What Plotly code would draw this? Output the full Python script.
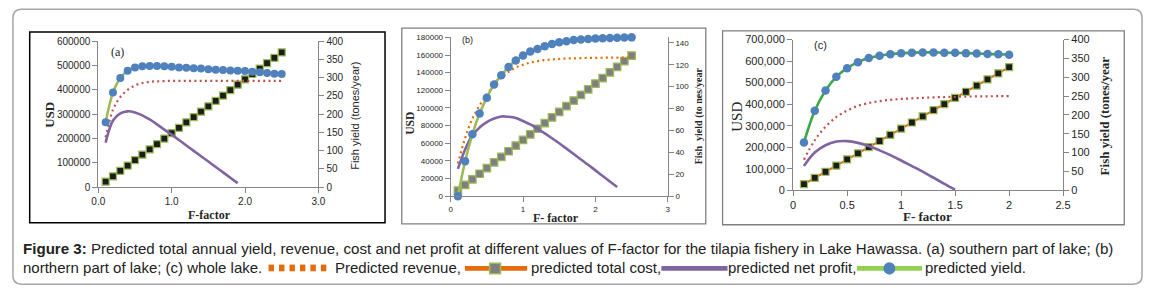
import plotly.graph_objects as go

W, H = 1154, 296

# ---------------- data ----------------
# (a) southern part of lake
f_a = [0.1, 0.2, 0.3, 0.4, 0.5, 0.6, 0.7, 0.8, 0.9, 1.0, 1.1, 1.2, 1.3, 1.4, 1.5,
       1.6, 1.7, 1.8, 1.9, 2.0, 2.1, 2.2, 2.3, 2.4, 2.5]
yield_a = [178, 259, 299, 319, 328, 331, 332, 332, 331, 330, 328, 327, 326, 325, 323,
           322, 321, 320, 319, 318, 316, 315, 313, 311, 310]
revenue_a = [205000, 318000, 370000, 400000, 418000, 428000, 433000, 435000, 436000, 437000,
             437000, 437000, 437000, 437000, 437000, 437000, 437000, 437000, 437000, 437000,
             437000, 437000, 437000, 437000, 437000]
cost_a = [22000, 44000, 66500, 88500, 111000, 133000, 155000, 177000, 199500, 221500,
          243500, 266000, 288000, 310000, 332000, 354500, 376500, 398500, 421000, 443000,
          465000, 487500, 509500, 531500, 554000]
f_a_profit = [0.1, 0.2, 0.3, 0.4, 0.5, 0.6, 0.7, 0.8, 0.9, 1.0, 1.1, 1.2, 1.3, 1.4, 1.5,
              1.6, 1.7, 1.8, 1.9]
profit_a = [183000, 274000, 303500, 311500, 307000, 295000, 278000, 258000, 236500, 215500,
            193500, 171000, 149000, 127000, 105000, 82500, 60500, 38500, 16000]

# (b) northern part of lake
f_b = [0.1, 0.2, 0.3, 0.4, 0.5, 0.6, 0.7, 0.8, 0.9, 1.0, 1.1, 1.2, 1.3, 1.4, 1.5,
       1.6, 1.7, 1.8, 1.9, 2.0, 2.1, 2.2, 2.3, 2.4, 2.5]
yield_b = [0, 32, 56.5, 75.5, 90, 102, 110.5, 118, 124, 128.5, 132, 134.5, 137, 139, 140.5,
           141.5, 142.5, 143, 143.5, 144, 144.2, 144.4, 144.6, 144.8, 145]
revenue_b = [37000, 66000, 88000, 103000, 115000, 126000, 135000, 141000, 146000, 149000,
             151500, 153000, 154200, 155000, 155600, 156000, 156300, 156500, 156700, 156800,
             156900, 157000, 157000, 157000, 157000]
cost_b = [6400, 12800, 19100, 25500, 31900, 38300, 44600, 51000, 57400, 63800,
          70100, 76500, 82900, 89300, 95600, 102000, 108400, 114800, 121100, 127500,
          133900, 140300, 146600, 153000, 159400]
f_b_profit = [0.1, 0.2, 0.3, 0.4, 0.5, 0.6, 0.7, 0.8, 0.9, 1.0, 1.1, 1.2, 1.3, 1.4, 1.5,
              1.6, 1.7, 1.8, 1.9, 2.0, 2.1, 2.2, 2.3]
profit_b = [31000, 53000, 69000, 78000, 84000, 88000, 90400, 90000, 88600, 85200,
            81400, 76500, 71300, 65700, 60000, 54000, 47900, 41700, 35600, 29300,
            23000, 16700, 10400]

# (c) whole lake
f_c = [0.1, 0.2, 0.3, 0.4, 0.5, 0.6, 0.7, 0.8, 0.9, 1.0, 1.1, 1.2, 1.3, 1.4, 1.5,
       1.6, 1.7, 1.8, 1.9, 2.0]
yield_c = [127, 211, 265, 301, 324, 340, 351, 357, 361, 364, 365, 366, 366, 365, 365,
           364, 363, 362, 361, 360]
revenue_c = [142000, 232000, 295000, 340000, 370000, 392000, 405000, 414000, 420000, 424000,
             427000, 429500, 431500, 433000, 434000, 435000, 436000, 436500, 437000, 437500]
cost_c = [28600, 57200, 85800, 114400, 143000, 171600, 200200, 228800, 257400, 286000,
          314600, 343200, 371800, 400400, 429000, 457600, 486200, 514800, 543400, 572000]
f_c_profit = [0.1, 0.2, 0.3, 0.4, 0.5, 0.6, 0.7, 0.8, 0.9, 1.0, 1.1, 1.2, 1.3, 1.4, 1.5]
profit_c = [113000, 175000, 209000, 226000, 228000, 220000, 205000, 185000, 163000, 138000,
            112000, 86000, 58000, 30000, 3000]

caption_line1 = ("<b>Figure 3:</b> Predicted total annual yield, revenue, cost and net profit at "
                 "different values of F-factor for the tilapia fishery in Lake Hawassa. "
                 "(a) southern part of lake; (b)")
caption_parts = ["northern part of lake; (c) whole lake.", "Predicted revenue,",
                 "predicted total cost,", "predicted net profit,", "predicted yield."]

# ---------------- styling ----------------
SANS = "Liberation Sans, Arial, sans-serif"
SERIF = "Liberation Serif, Times New Roman, serif"
AXC = "#868686"
TXT = "#262626"
BLUE = "#4F81BD"
LGREEN = "#9BBB59"
DGREEN = "#3AA845"
PURPLE = "#8064A2"
RED = "#C0504D"
ORANGE = "#E46C0A"


def px(x):
    return x / W


def py(y):
    return 1 - y / H


fig = go.Figure()


def add_panel(xa, ya_l, ya_r, f, yld, rev, cost, fp, prof, rev_color, sq_fill, y_green,
              msize_c, msize_s):
    fig.add_trace(go.Scatter(x=f, y=cost, xaxis=xa, yaxis=ya_l, mode="lines+markers",
                             line=dict(color=ORANGE, width=2),
                             marker=dict(symbol="square", size=msize_s, color=sq_fill,
                                         line=dict(color=LGREEN, width=1.2)),
                             cliponaxis=False, showlegend=False))
    fig.add_trace(go.Scatter(x=f, y=rev, xaxis=xa, yaxis=ya_l, mode="lines",
                             line=dict(color=rev_color, width=2.2, dash="2px,3.3px",
                                       shape="spline"),
                             showlegend=False))
    fig.add_trace(go.Scatter(x=fp, y=prof, xaxis=xa, yaxis=ya_l, mode="lines",
                             line=dict(color=PURPLE, width=2.6, shape="spline"),
                             showlegend=False))
    fig.add_trace(go.Scatter(x=f, y=yld, xaxis=xa, yaxis=ya_r, mode="lines+markers",
                             line=dict(color=y_green, width=2.6, shape="spline"),
                             marker=dict(symbol="circle", size=msize_c, color=BLUE,
                                         line=dict(width=0)),
                             cliponaxis=False, showlegend=False))


add_panel("x", "y", "y2", f_a, yield_a, revenue_a, cost_a, f_a_profit, profit_a,
          RED, "#1C1C1C", LGREEN, 8, 7)
add_panel("x2", "y3", "y4", f_b, yield_b, revenue_b, cost_b, f_b_profit, profit_b,
          ORANGE, "#7F7F7F", LGREEN, 8.5, 7.5)
add_panel("x3", "y5", "y6", f_c, yield_c, revenue_c, cost_c, f_c_profit, profit_c,
          RED, "#1C1C1C", DGREEN, 8.5, 7)


def xaxis(dom, rng, dtick, fmt, anchor, fs):
    return dict(domain=[px(dom[0]), px(dom[1])], range=rng, dtick=dtick, tick0=0,
                tickformat=fmt, anchor=anchor, showline=True, linecolor=AXC, linewidth=1,
                ticks="outside", ticklen=5, tickcolor=AXC, tickwidth=1, showgrid=False,
                zeroline=False, tickfont=dict(family=SANS, size=fs, color=TXT),
                fixedrange=True)


def yaxis(dom, rng, dtick, fmt, anchor, fs, side="left", overlaying=None):
    d = dict(domain=[py(dom[1]), py(dom[0])], range=rng, dtick=dtick, tick0=0,
             tickformat=fmt, anchor=anchor, side=side, showline=True, linecolor=AXC,
             linewidth=1, ticks="outside", ticklen=5, tickcolor=AXC, tickwidth=1,
             showgrid=False, zeroline=False,
             tickfont=dict(family=SANS, size=fs, color=TXT), fixedrange=True)
    if overlaying:
        d["overlaying"] = overlaying
    return d


A_X, A_Y = (92.5, 315.5), (36.7, 188.7)
B_X, B_Y = (449.5, 669.5), (32.7, 198.3)
C_X, C_Y = (796.5, 1070), (35.0, 192.0)

layout = dict(
    width=W, height=H, autosize=False,
    margin=dict(l=0, r=0, t=0, b=0, pad=0),
    paper_bgcolor="white", plot_bgcolor="white",
    showlegend=False,
    xaxis=xaxis(A_X, [0, 3], 1, ".1f", "y", 10),
    yaxis=yaxis(A_Y, [0, 600000], 100000, "d", "x", 10),
    yaxis2=yaxis(A_Y, [0, 400], 50, "d", "x", 10, side="right", overlaying="y"),
    xaxis2=xaxis(B_X, [0, 3], 1, "d", "y3", 8),
    yaxis3=yaxis(B_Y, [0, 180000], 20000, "d", "x2", 8),
    yaxis4=yaxis(B_Y, [0, 145], 20, "d", "x2", 8, side="right", overlaying="y3"),
    xaxis3=xaxis(C_X, [0, 2.5], 0.5, "", "y5", 11),
    yaxis5=yaxis(C_Y, [0, 700000], 100000, ",d", "x3", 11),
    yaxis6=yaxis(C_Y, [0, 400], 50, "d", "x3", 11, side="right", overlaying="y5"),
)
fig.update_layout(**layout)

# ---------------- frames ----------------
shapes = []
r = 9
x0, y0, x1, y1 = 6, 3.5, 1150, 290
rx, ry = r / W, r / H
path = (f"M {px(x0)+rx},{py(y0)} L {px(x1)-rx},{py(y0)} Q {px(x1)},{py(y0)} {px(x1)},{py(y0)-ry} "
        f"L {px(x1)},{py(y1)+ry} Q {px(x1)},{py(y1)} {px(x1)-rx},{py(y1)} "
        f"L {px(x0)+rx},{py(y1)} Q {px(x0)},{py(y1)} {px(x0)},{py(y1)+ry} "
        f"L {px(x0)},{py(y0)-ry} Q {px(x0)},{py(y0)} {px(x0)+rx},{py(y0)} Z")
shapes.append(dict(type="path", xref="paper", yref="paper", path=path,
                   line=dict(color="#A6A6A6", width=1.5), layer="below"))


def frame(xa, ya, xb, yb, color, w):
    shapes.append(dict(type="rect", xref="paper", yref="paper", x0=px(xa), x1=px(xb),
                       y0=py(yb), y1=py(ya), line=dict(color=color, width=w),
                       layer="below"))


frame(23, 27, 383, 226, "#000000", 1.5)
frame(400, 23, 708, 227, "#808080", 1.3)
frame(725, 26, 1132, 228, "#808080", 1.3)


# legend glyphs in caption
def rect(xa, ya, xb, yb, fill, lc=None, lw=0):
    shapes.append(dict(type="rect", xref="paper", yref="paper", x0=px(xa), x1=px(xb),
                       y0=py(yb), y1=py(ya), fillcolor=fill,
                       line=dict(color=lc or fill, width=lw)))


for i in range(6):
    xs = 265 + i * 10.6
    rect(xs, 269.5, xs + 5.5, 276.5, ORANGE)
rect(464, 271, 527, 276, ORANGE)
rect(489, 268, 500, 279, "#7F7F7F", LGREEN, 1.5)
rect(663, 271, 730, 276, PURPLE)
rect(861, 271, 927, 276, "#92D050")
shapes.append(dict(type="circle", xref="paper", yref="paper", x0=px(888), x1=px(900),
                   y0=py(280), y1=py(267), fillcolor=BLUE, line=dict(color=BLUE, width=0)))
fig.update_layout(shapes=shapes)

# ---------------- text ----------------
ann = []


def text(x, y, s, family, size, angle=0, xanchor="center", color=TXT):
    ann.append(dict(x=px(x), y=py(y), xref="paper", yref="paper", text=s, showarrow=False,
                    textangle=angle, xanchor=xanchor, yanchor="middle",
                    font=dict(family=family, size=size, color=color),
                    borderpad=0, borderwidth=0))


# panel (a)
text(43, 113, "<b>USD</b>", SERIF, 13, -90)
text(353, 114, "Fish yield (tones/year)", SANS, 11, -90)
text(205, 218, "<b>F-factor</b>", SERIF, 12)
text(112, 48, "(a)", SERIF, 12)
# panel (b)
text(408, 122, "<b>USD</b>", SERIF, 11.5, -90)
text(701, 114, "<b>Fish  yield (to nes/year</b>", SERIF, 10, -90)
text(556, 220.5, "<b>F- factor</b>", SERIF, 12)
text(467, 35, "(b)", SANS, 9)
# panel (c)
text(740, 115, "USD", SERIF, 15, -90)
text(1111.5, 115, "<b>Fish yield (tones/year</b>", SERIF, 13, -90)
text(933, 219.5, "<b>F- factor</b>", SERIF, 13)
text(824, 40.5, "(c)", SANS, 11)

# caption
CAP = "#222222"
text(16, 253, caption_line1, SANS, 15.1, xanchor="left", color=CAP)
cap_x = [16, 332, 531, 731, 930]
for xx, s in zip(cap_x, caption_parts):
    text(xx, 273, s, SANS, 15, xanchor="left", color=CAP)

fig.update_layout(annotations=ann)

fig.write_html("out.html", config={"displayModeBar": False},
               post_script="document.body.style.margin='0px';")
